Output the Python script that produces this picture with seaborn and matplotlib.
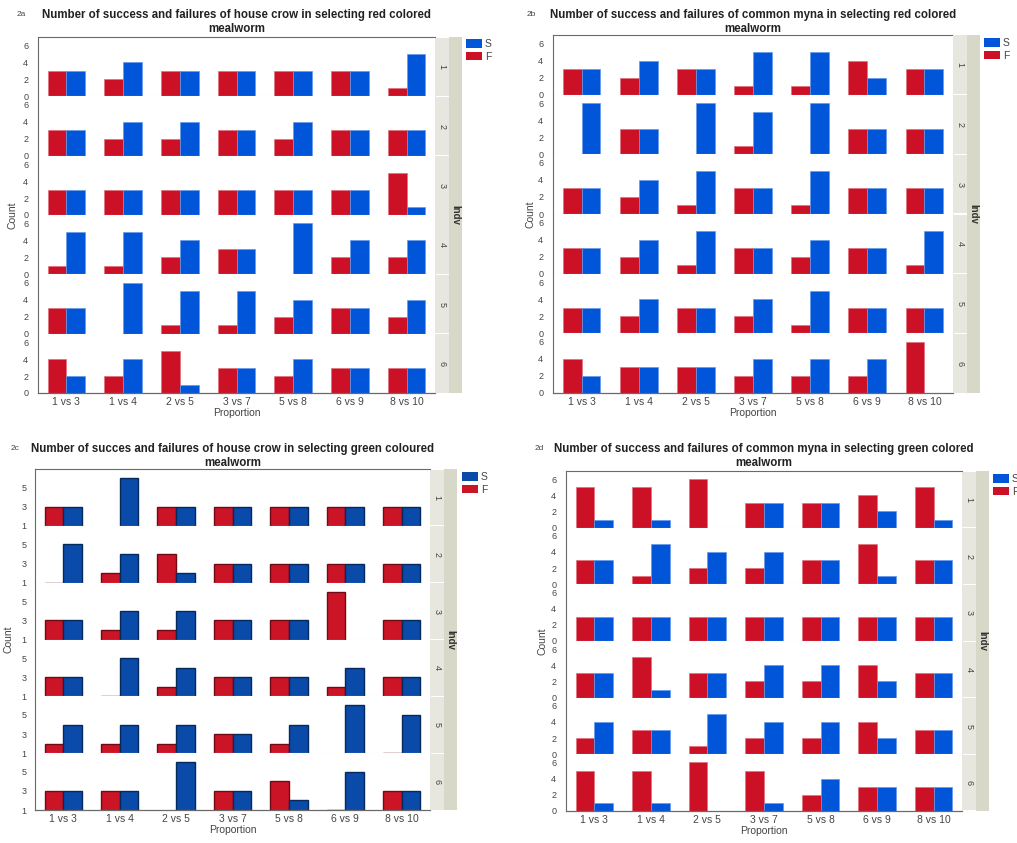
import numpy as np
import pandas as pd
import matplotlib
matplotlib.use("Agg")
import matplotlib.pyplot as plt
from matplotlib.patches import Rectangle, Patch
from matplotlib.ticker import FixedLocator
import matplotlib.colors as mcolors
import seaborn as sns

# ---- data -------------------------------------------------------------
proportions = ["1 vs 3", "1 vs 4", "2 vs 5", "3 vs 7", "5 vs 8", "6 vs 9", "8 vs 10"]
individuals = [1, 2, 3, 4, 5, 6]

# house crow, red mealworm (rows = Indv 1..6, columns = proportions)
crow_red_F = [[3, 2, 3, 3, 3, 3, 1],
              [3, 2, 2, 3, 2, 3, 3],
              [3, 3, 3, 3, 3, 3, 5],
              [1, 1, 2, 3, 0, 2, 2],
              [3, 0, 1, 1, 2, 3, 2],
              [4, 2, 5, 3, 2, 3, 3]]
crow_red_S = [[3, 4, 3, 3, 3, 3, 5],
              [3, 4, 4, 3, 4, 3, 3],
              [3, 3, 3, 3, 3, 3, 1],
              [5, 5, 4, 3, 6, 4, 4],
              [3, 6, 5, 5, 4, 3, 4],
              [2, 4, 1, 3, 4, 3, 3]]

# common myna, red mealworm
myna_red_F = [[3, 2, 3, 1, 1, 4, 3],
              [0, 3, 0, 1, 0, 3, 3],
              [3, 2, 1, 3, 1, 3, 3],
              [3, 2, 1, 3, 2, 3, 1],
              [3, 2, 3, 2, 1, 3, 3],
              [4, 3, 3, 2, 2, 2, 6]]
myna_red_S = [[3, 4, 3, 5, 5, 2, 3],
              [6, 3, 6, 5, 6, 3, 3],
              [3, 4, 5, 3, 5, 3, 3],
              [3, 4, 5, 3, 4, 3, 5],
              [3, 4, 3, 4, 5, 3, 3],
              [2, 3, 3, 4, 4, 4, 0]]

# house crow, green mealworm
crow_green_F = [[3, 0, 3, 3, 3, 3, 3],
                [1, 2, 4, 3, 3, 3, 3],
                [3, 2, 2, 3, 3, 6, 3],
                [3, 1, 2, 3, 3, 2, 3],
                [2, 2, 2, 3, 2, 0, 1],
                [3, 3, 0, 3, 4, 1, 3]]
crow_green_S = [[3, 6, 3, 3, 3, 3, 3],
                [5, 4, 2, 3, 3, 3, 3],
                [3, 4, 4, 3, 3, 0, 3],
                [3, 5, 4, 3, 3, 4, 3],
                [4, 4, 4, 3, 4, 6, 5],
                [3, 3, 6, 3, 2, 5, 3]]

# common myna, green mealworm
myna_green_F = [[5, 5, 6, 3, 3, 4, 5],
                [3, 1, 2, 2, 3, 5, 3],
                [3, 3, 3, 3, 3, 3, 3],
                [3, 5, 3, 2, 2, 4, 3],
                [2, 3, 1, 2, 2, 4, 3],
                [5, 5, 6, 5, 2, 3, 3]]
myna_green_S = [[1, 1, 0, 3, 3, 2, 1],
                [3, 5, 4, 4, 3, 1, 3],
                [3, 3, 3, 3, 3, 3, 3],
                [3, 1, 3, 4, 4, 2, 3],
                [4, 3, 5, 4, 4, 2, 3],
                [1, 1, 0, 1, 4, 3, 3]]


def to_long(F, S):
    rows = []
    for i, ind in enumerate(individuals):
        for j, p in enumerate(proportions):
            rows.append((ind, p, "F", F[i][j]))
            rows.append((ind, p, "S", S[i][j]))
    return pd.DataFrame(rows, columns=["Indv", "Proportion", "Outcome", "Count"])


# ---- figure -----------------------------------------------------------
sns.set_style("white")
plt.rcParams["font.family"] = ["Liberation Sans", "DejaVu Sans"]

W, H = 1017, 843
fig = plt.figure(figsize=(W / 100, H / 100), dpi=100)


def fx(x):
    return x / W


def fy(y):
    return 1 - y / H


RED = "#cc1126"
BLUE = "#0055d8"
RED2 = "#cc1427"
BLUE2 = "#0a4aa8"
STRIP_IN = "#e7e7df"
STRIP_OUT = "#d8d8c9"
TICK_C = "#505050"


def draw_panel(tag, title, F, S, left, right, top, bottom, ylim, major, minor,
               palette, dark_edges, legend_xy, count_x, title_y, tag_x, ypad):
    df = to_long(F, S)
    rowh = (bottom - top) / len(individuals)
    for i, ind in enumerate(individuals):
        t = top + i * rowh
        ax = fig.add_axes([fx(left), fy(t + rowh), (right - left) / W, rowh / H])
        sub = df[df["Indv"] == ind]
        sns.barplot(data=sub, x="Proportion", y="Count", hue="Outcome",
                    order=proportions, hue_order=["F", "S"], palette=palette,
                    saturation=1, width=0.66, gap=0, dodge=True, legend=False,
                    ax=ax, errorbar=None, linewidth=0.6)
        for bar in ax.patches:
            fc = np.array(mcolors.to_rgb(bar.get_facecolor()))
            if dark_edges:
                bar.set_edgecolor(tuple(fc * 0.55))
                bar.set_linewidth(1.0)
            else:
                bar.set_edgecolor(tuple(fc * 0.6 + 0.4))
                bar.set_linewidth(0.5)
        ax.set_ylim(*ylim)
        ax.set_xlim(-0.5, len(proportions) - 0.5)
        ax.yaxis.set_major_locator(FixedLocator(major))
        ax.yaxis.set_minor_locator(FixedLocator(minor))
        ax.tick_params(axis="y", which="major", length=4, width=0.7,
                       color=TICK_C, labelsize=6.5, labelcolor="#444444",
                       pad=ypad)
        ax.tick_params(axis="y", which="minor", length=2.5, width=0.7,
                       color=TICK_C)
        ax.set_ylabel("")
        ax.set_xlabel("")
        ax.spines["right"].set_visible(False)
        ax.spines["left"].set_color("#6a6a6a")
        ax.spines["left"].set_linewidth(0.8)
        if i == 0:
            ax.spines["top"].set_color("#6a6a6a")
            ax.spines["top"].set_linewidth(0.8)
        else:
            ax.spines["top"].set_visible(False)
        if i == len(individuals) - 1:
            ax.spines["bottom"].set_color("#6a6a6a")
            ax.spines["bottom"].set_linewidth(0.9)
            ax.tick_params(axis="x", length=0, labelsize=7.5,
                           labelcolor="#444444", pad=3)
        else:
            ax.spines["bottom"].set_color("#e2e2e2")
            ax.spines["bottom"].set_linewidth(0.8)
            ax.tick_params(axis="x", length=0, labelbottom=False)

        # facet strip for this individual
        fig.patches.append(Rectangle((fx(right), fy(t + rowh - 0.5)), 14 / W,
                                     (rowh - 1) / H, transform=fig.transFigure,
                                     facecolor=STRIP_IN, edgecolor="none"))
        fig.text(fx(right + 7), fy(t + rowh / 2), str(ind), rotation=-90,
                 ha="center", va="center", fontsize=6.5, color="#444444")

    # outer strip with the facet variable name
    fig.patches.append(Rectangle((fx(right + 14), fy(bottom)), 13 / W,
                                 (bottom - top) / H, transform=fig.transFigure,
                                 facecolor=STRIP_OUT, edgecolor="none"))
    fig.text(fx(right + 20.5), fy((top + bottom) / 2), "Indv", rotation=-90,
             ha="center", va="center", fontsize=7, fontweight="bold",
             color="#333333")

    # titles and axis labels
    cx = (left + right) / 2
    fig.text(fx(cx), fy(title_y), title, ha="center", va="center",
             fontsize=8.3, fontweight="bold", color="#222222", linespacing=1.15)
    fig.text(fx(tag_x), fy(title_y - 7), tag, ha="left", va="center",
             fontsize=6, color="#444444")
    fig.text(fx(count_x), fy((top + bottom) / 2), "Count", rotation=90,
             ha="center", va="center", fontsize=7.5, color="#444444")
    fig.text(fx(cx), fy(bottom + 20), "Proportion", ha="center", va="center",
             fontsize=7.5, color="#444444")

    handles = [Patch(facecolor=palette["S"], edgecolor="none", label="S"),
               Patch(facecolor=palette["F"], edgecolor="none", label="F")]
    fig.legend(handles=handles, loc="upper left",
               bbox_to_anchor=(fx(legend_xy[0]), fy(legend_xy[1])),
               frameon=False, fontsize=7.5, handlelength=1.5, handleheight=0.9,
               handletextpad=0.3, labelspacing=0.25, borderpad=0,
               borderaxespad=0, labelcolor="#444444")


pal1 = {"F": RED, "S": BLUE}
pal2 = {"F": RED2, "S": BLUE2}

draw_panel("2a", "Number of success and failures of house crow in selecting red colored\nmealworm",
           crow_red_F, crow_red_S, 38, 435, 37, 393, (0, 7.0), [0, 2, 4, 6], [1, 3, 5],
           pal1, False, (466, 39), 12, 22, 17, 3)
draw_panel("2b", "Number of success and failures of common myna in selecting red colored\nmealworm",
           myna_red_F, myna_red_S, 553, 953, 35, 393, (0, 7.0), [0, 2, 4, 6], [1, 3, 5],
           pal1, False, (984, 38), 531, 22, 527, 3)
draw_panel("2c", "Number of succes and failures of house crow in selecting green coloured\nmealworm",
           crow_green_F, crow_green_S, 35, 430, 469, 810, (1, 6.95), [1, 3, 5], [2, 4, 6],
           pal2, True, (462, 472), 9, 456, 11, 2)
draw_panel("2d", "Number of success and failures of common myna in selecting green colored\nmealworm",
           myna_green_F, myna_green_S, 566, 962, 471, 811, (0, 7.0), [0, 2, 4, 6], [1, 3, 5],
           pal1, False, (993, 474), 542, 456, 535, 3)

fig.savefig("out.png", dpi=100, facecolor="white")
